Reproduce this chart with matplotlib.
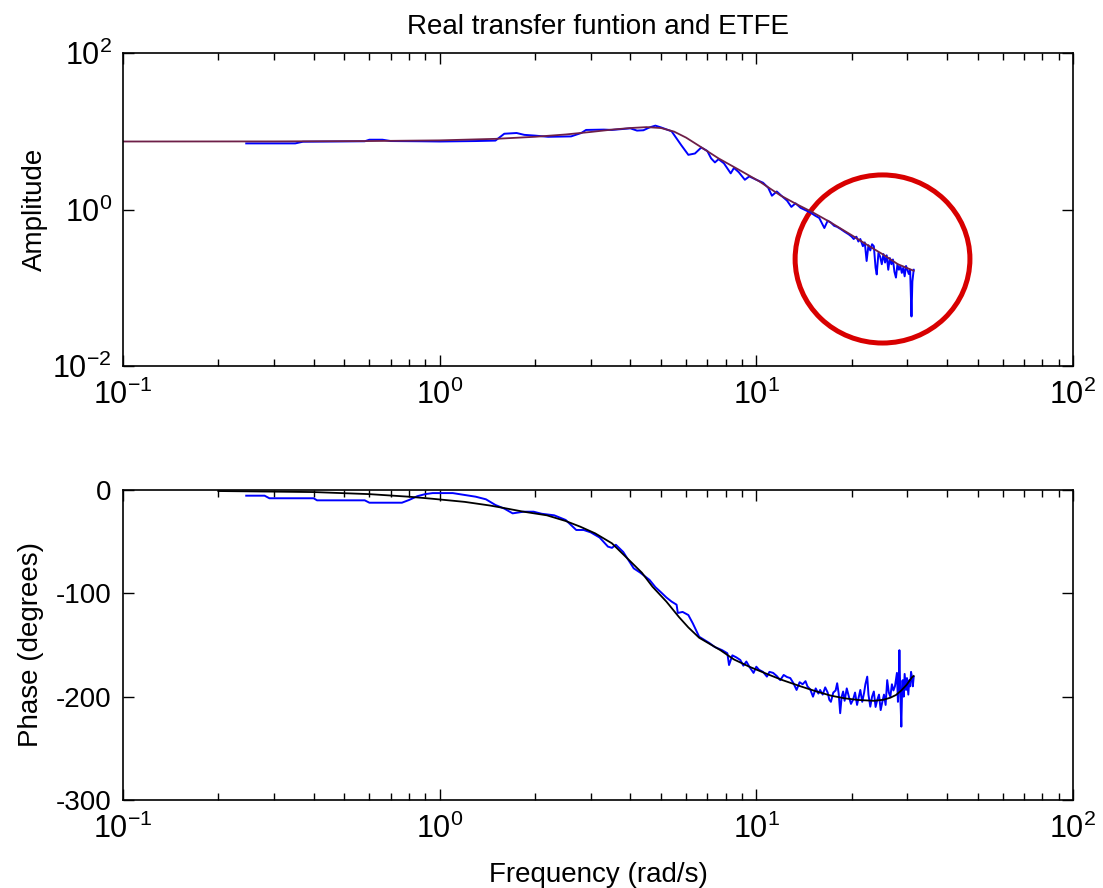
"""Bode comparison of the real transfer function and its ETFE estimate."""

import matplotlib
matplotlib.use("Agg")
import matplotlib.pyplot as plt
from matplotlib.patches import Ellipse
from matplotlib.ticker import LogLocator, NullLocator

# Real transfer function, amplitude (rad/s, gain)
w_true_amp = [0.1, 0.3, 0.6, 1.0, 1.5, 2.0, 2.5, 3.0, 3.5, 4.0, 4.5, 5.0, 5.5,
              6.0, 6.6, 7.6, 8.9, 10.2, 11.9, 13.4, 15.0, 17.0, 20.0, 23.0,
              25.0, 28.0, 31.4]
amp_true = [7.4, 7.42, 7.5, 7.65, 8.0, 8.5, 9.1, 9.8, 10.5, 11.0, 11.3, 11.0,
            9.9, 8.3, 6.5, 4.5, 3.15, 2.3, 1.52, 1.17, 0.93, 0.7, 0.47, 0.33,
            0.27, 0.2, 0.165]

# ETFE amplitude
w_etfe_amp = [0.245, 0.35, 0.37, 0.58, 0.6, 0.66, 0.7, 0.87, 1.0, 1.3, 1.5,
              1.6, 1.75, 1.85, 2.0, 2.2, 2.6, 2.8, 2.9, 3.3, 3.5, 4.0, 4.2,
              4.4, 4.6, 4.8, 5.0, 5.4, 5.8, 6.1, 6.4, 6.7, 7.0, 7.2, 7.4, 7.6,
              7.9, 8.3, 8.5, 8.8, 9.2, 9.5, 10.0, 10.5, 10.9, 11.2, 11.6, 12.0,
              12.5, 12.9, 13.3, 13.8, 14.3, 14.8, 15.3, 15.8, 16.4, 16.8, 17.2,
              17.6, 18.0, 18.5, 19.0, 19.6, 20.0, 20.3, 20.7, 21.0, 21.3, 21.7,
              22.0, 22.3, 22.6, 22.9, 23.2, 23.5, 23.8, 24.0, 24.3, 24.6, 24.9,
              25.2, 25.5, 25.8, 26.1, 26.4, 26.7, 27.0, 27.3, 27.6, 27.9, 28.2,
              28.5, 28.8, 29.1, 29.4, 29.7, 30.0, 30.3, 30.6, 30.9, 31.1, 31.4]
amp_etfe = [7.0, 7.0, 7.35, 7.45, 7.8, 7.8, 7.5, 7.45, 7.4, 7.5, 7.6,
            9.3, 9.5, 9.0, 8.8, 8.5, 8.6, 9.5, 10.4, 10.5, 10.4, 10.9, 10.2,
            10.3, 11.2, 11.8, 11.2, 10.0, 6.6, 5.0, 5.2, 6.2, 5.6, 4.5, 4.0, 4.4,
            3.9, 2.9, 3.4, 3.0, 2.4, 2.65, 2.4, 2.2, 1.9, 1.5, 1.7, 1.5,
            1.3, 1.08, 1.2, 1.05, 0.98, 0.92, 0.84, 0.78, 0.58, 0.72, 0.68,
            0.62, 0.6, 0.56, 0.52, 0.48, 0.45, 0.42, 0.45, 0.39, 0.42, 0.34,
            0.38, 0.22, 0.35, 0.30, 0.36, 0.34, 0.18, 0.148, 0.28, 0.25, 0.2,
            0.27, 0.21, 0.26, 0.17, 0.24, 0.2, 0.23, 0.16, 0.135, 0.2, 0.17,
            0.19, 0.155, 0.18, 0.14, 0.19, 0.17, 0.15, 0.17, 0.043, 0.12, 0.17]

# Real transfer function, phase (degrees)
w_true_ph = [0.2, 0.4, 0.6, 0.8, 0.95, 1.2, 1.44, 1.6, 1.84, 2.18, 2.5, 2.78,
             3.1, 3.5, 4.0, 4.35, 4.7, 5.2, 5.7, 6.1, 6.6, 7.7, 8.5, 9.5, 10.8,
             12.1, 13.8, 15.5, 17.2, 19.0, 21.0, 23.5, 25.2, 26.5, 27.6, 28.7,
             29.8, 31.0, 31.4]
ph_true = [-1, -2, -4, -6.5, -8.5, -11.5, -15, -17.5, -21, -24.5, -30, -35.5,
           -42, -51.6, -69, -80, -93.6, -108, -123, -133, -143, -155, -164,
           -171, -178, -184, -190, -195, -199, -201.6, -203.2, -204, -203, -201,
           -198.4, -194, -188.7, -181.3, -180]

# ETFE phase
w_etfe_ph = [0.245, 0.28, 0.29, 0.4, 0.41, 0.58, 0.6, 0.76, 0.8, 0.85, 0.9,
             0.95, 1.1, 1.2, 1.3, 1.4, 1.5, 1.6, 1.7, 1.84, 1.98, 2.1, 2.3,
             2.5, 2.7, 2.85, 3.0, 3.2, 3.4, 3.5, 3.6, 3.8, 4.1, 4.3, 4.6, 4.8,
             5.0, 5.2, 5.4, 5.6, 5.65, 5.85, 6.1, 6.3, 6.6, 6.85, 7.1, 7.4, 7.8,
             8.1, 8.2, 8.4, 8.65, 8.9, 9.1, 9.3, 9.55, 9.8, 10.0, 10.2, 10.5,
             10.8, 11.0, 11.3, 11.6, 11.9, 12.2, 12.5, 12.8, 13.1, 13.4, 13.7,
             14.0, 14.3, 14.5, 14.8, 15.1, 15.4, 15.7, 15.9, 16.2, 16.5, 16.8,
             17.0, 17.2, 17.5, 17.8, 18.0, 18.2, 18.4, 18.6, 18.8, 19.0, 19.3,
             19.6, 19.9, 20.2, 20.5, 20.8, 21.1, 21.3, 21.6, 21.9, 22.1, 22.4,
             22.6, 22.9, 23.2, 23.5, 23.8, 24.1, 24.4, 24.7, 25.0, 25.3, 25.6,
             25.9, 26.2, 26.5, 26.8, 27.1, 27.4, 27.8, 28.0, 28.2, 28.3, 28.5,
             28.7, 28.9, 29.0, 29.2, 29.4, 29.7, 29.9, 30.2, 30.4, 30.6, 30.8,
             31.0, 31.2, 31.4]
ph_etfe = [-5.5, -5.5, -8, -8, -10, -10, -12.3, -12.3, -9.7, -6, -4,
           -3, -3, -4.8, -6.5, -9, -14.5, -18, -22.6, -21, -21, -23, -24.5,
           -29, -38.7, -38.7, -41, -46, -54.8, -56, -53, -60, -75.8, -80, -87,
           -94, -99, -104, -108, -111, -119, -118, -121, -129, -142, -145,
           -148, -152, -155, -158, -169.4, -160, -162, -164.5, -170, -166,
           -172, -177, -171, -174, -176, -180.6, -176, -177, -180, -184, -179,
           -181, -182, -187, -193.5, -186, -188, -185, -190, -193, -200, -192,
           -197, -193.5, -198, -191, -196, -203, -205, -196, -194, -187, -197,
           -216, -200, -195, -204, -192, -200, -207, -203, -196, -208, -199,
           -193.5, -205, -196, -188, -180.6, -198, -209.7, -200, -195, -210,
           -203, -198, -213, -205, -198, -208, -184, -196, -200, -188, -194,
           -190, -177, -205, -180, -155, -200, -229, -185, -184, -200, -178,
           -193.5, -182, -198, -184, -190, -176, -180.6, -190, -181]

x_ticks = [0.1, 1, 10, 100]
amp_ticks = [1e-2, 1, 1e2]
phase_ticks = [-300, -200, -100, 0]


def style_axis(ax: plt.Axes) -> None:
    """MATLAB-like box with inward ticks on every side."""
    ax.set_xscale("log")
    ax.set_xlim(0.1, 100)
    ax.set_xticks(x_ticks)
    ax.xaxis.set_minor_locator(LogLocator(base=10, subs=range(2, 10)))
    ax.tick_params(which="both", direction="in", top=True, right=True,
                   width=1.0)
    ax.tick_params(which="major", length=8, pad=8, labelsize=20)
    ax.tick_params(axis="x", which="major", pad=10, labelsize=22)
    ax.tick_params(which="minor", length=5)
    for spine in ax.spines.values():
        spine.set_linewidth(1.2)


plt.rcParams["font.family"] = ["Liberation Sans", "DejaVu Sans"]
plt.rcParams["axes.unicode_minus"] = False

fig = plt.figure(figsize=(11.03, 8.88), dpi=100)
ax1 = fig.add_axes([0.1115, 0.5878, 0.8613, 0.3525])
ax2 = fig.add_axes([0.1115, 0.0991, 0.8613, 0.3491])

# Amplitude
ax1.plot(w_etfe_amp, amp_etfe, color="#0000ff", lw=1.4)
ax1.plot(w_true_amp, amp_true, color="#6e1f48", lw=1.3)
style_axis(ax1)
ax1.set_yscale("log")
ax1.set_ylim(1e-2, 1e2)
ax1.set_yticks(amp_ticks)
ax1.yaxis.set_minor_locator(NullLocator())
ax1.tick_params(axis="y", which="major", labelsize=22)
ax1.set_ylabel("Amplitude", fontsize=20)
ax1.yaxis.set_label_coords(-0.079, 0.5)
ax1.set_title("Real transfer funtion and ETFE", fontsize=20, pad=14)
ax1.add_patch(Ellipse((0.7995, 0.342), 0.184, 0.537, transform=ax1.transAxes,
                      fill=False, ec="#d80000", lw=3.6, clip_on=False))

# Phase
ax2.plot(w_etfe_ph, ph_etfe, color="#0000ff", lw=1.4)
ax2.plot(w_true_ph, ph_true, color="black", lw=1.3)
style_axis(ax2)
ax2.set_ylim(-300, 0)
ax2.set_yticks(phase_ticks)
ax2.set_ylabel("Phase (degrees)", fontsize=20)
ax2.yaxis.set_label_coords(-0.083, 0.5)
ax2.set_xlabel("Frequency (rad/s)", fontsize=20)
ax2.xaxis.set_label_coords(0.5, -0.2)

fig.savefig("out.png", dpi=100)
